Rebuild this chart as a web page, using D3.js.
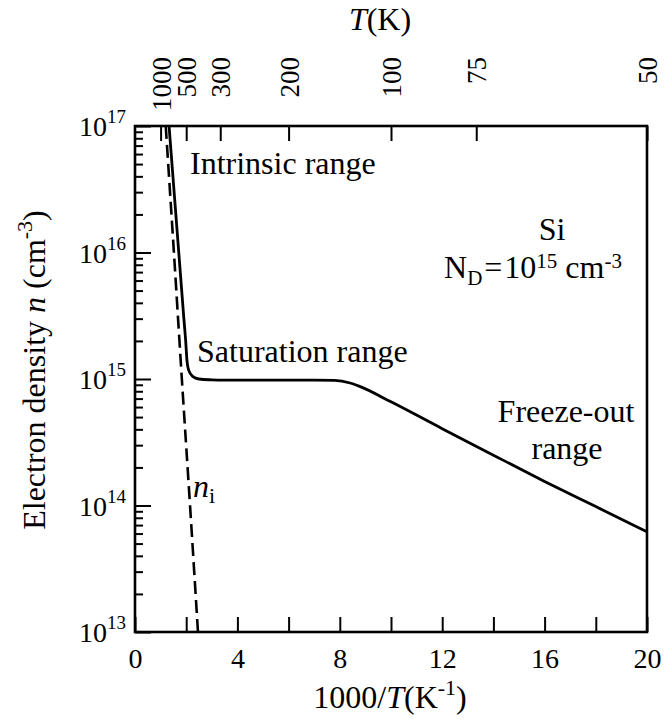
<!DOCTYPE html>
<html>
<head>
<meta charset="utf-8">
<script src="https://cdn.jsdelivr.net/npm/d3@7"></script>
<style>
body { margin: 0; background: #fff; }
text { font-family: "Liberation Serif", "DejaVu Serif", serif; fill: #000; }
</style>
</head>
<body>
<div id="chart"></div>
<script>
// electron density n vs 1000/T, Si with N_D = 1e15 cm^-3
const invT = [1.33, 1.71, 1.9, 1.98, 2.03, 2.1, 2.25, 2.5, 3, 3.5, 5, 7, 7.8, 8.4, 8.8, 10, 12, 14, 16, 18, 20];
const nTotal = [1e17, 1e16, 3.16e15, 2.0e15, 1.4e15, 1.17e15, 1.05e15, 1.0e15, 0.985e15, 0.98e15, 0.98e15, 0.98e15, 0.975e15, 0.93e15, 0.87e15, 6.6e14, 4.05e14, 2.5e14, 1.55e14, 9.8e13, 6.2e13];

// intrinsic density n_i (dashed)
const niInvT = [1.2, 1.52, 1.83, 2.15, 2.46];
const niN = [1e17, 1e16, 1e15, 1e14, 1e13];

const xTickVals = [0, 2, 4, 6, 8, 10, 12, 14, 16, 18, 20];
const xLabelled = [0, 4, 8, 12, 16, 20];
const yExponents = [13, 14, 15, 16, 17];

// top temperature axis
const topTickPos = [1, 2, 3.33, 6, 10, 13.33, 20];
const topTickLabels = ["1000", "500", "300", "200", "100", "75", "50"];

const W = 664, H = 719;
const margin = {top: 126, right: 17, bottom: 87, left: 135};
const x0 = margin.left, x1 = W - margin.right, y0 = H - margin.bottom, y1 = margin.top;

const svg = d3.select("#chart").append("svg")
  .attr("width", W).attr("height", H);

const x = d3.scaleLinear().domain([0, 20]).range([x0, x1]);
const y = d3.scaleLog().domain([1e13, 1e17]).range([y0, y1]);

// minor log ticks
let minor = [];
for (let e = 13; e < 17; e++) for (let m = 2; m < 10; m++) minor.push(m * Math.pow(10, e));

svg.append("g")
  .attr("transform", "translate(" + x0 + ",0)")
  .call(d3.axisLeft(y).tickValues(minor).tickSizeInner(-8).tickSizeOuter(0).tickFormat(""))
  .call(g => g.select(".domain").remove())
  .selectAll("line").attr("stroke-width", 2);

const yAx = svg.append("g")
  .attr("transform", "translate(" + x0 + ",0)")
  .call(d3.axisLeft(y).tickValues(yExponents.map(e => Math.pow(10, e))).tickSizeInner(-16).tickSizeOuter(0).tickFormat(""))
  .call(g => g.select(".domain").remove());
yAx.selectAll("line").attr("stroke-width", 2);

yExponents.forEach(e => {
  const t = svg.append("text")
    .attr("x", x0 - 9)
    .attr("y", y(Math.pow(10, e)) + 10)
    .attr("text-anchor", "end")
    .style("font-size", "28px");
  t.append("tspan").text("10");
  t.append("tspan").attr("dy", -13).style("font-size", "19px").text(e);
});

// bottom axis
const xAx = svg.append("g")
  .attr("transform", "translate(0," + y0 + ")")
  .call(d3.axisBottom(x).tickValues(xTickVals).tickSizeInner(-15).tickSizeOuter(0).tickPadding(16)
    .tickFormat(d => xLabelled.includes(d) ? d : ""))
  .call(g => g.select(".domain").remove());
xAx.selectAll("line").attr("stroke-width", 2);
xAx.selectAll("text").style("font-size", "28px").style("font-family", "Liberation Serif").attr("fill", "#000");

// top axis (temperature)
const tAx = svg.append("g")
  .attr("transform", "translate(0," + y1 + ")")
  .call(d3.axisTop(x).tickValues(topTickPos).tickSizeInner(-15).tickSizeOuter(0)
    .tickFormat((d, i) => topTickLabels[i]))
  .call(g => g.select(".domain").remove());
tAx.selectAll("line").attr("stroke-width", 2);
tAx.selectAll("text")
  .attr("transform", "rotate(-90)")
  .attr("x", 69).attr("y", 0).attr("dy", "0.35em")
  .attr("text-anchor", "end")
  .style("font-size", "27px").style("font-family", "Liberation Serif").attr("fill", "#000");

// curves
svg.append("clipPath").attr("id", "clip")
  .append("rect").attr("x", x0).attr("y", y1).attr("width", x1 - x0).attr("height", y0 - y1);

const line = d3.line().x(d => x(d[0])).y(d => y(d[1])).curve(d3.curveMonotoneX);

svg.append("path")
  .attr("clip-path", "url(#clip)")
  .attr("d", line(niInvT.map((v, i) => [v, niN[i]])))
  .attr("fill", "none").attr("stroke", "#000").attr("stroke-width", 2.6)
  .attr("stroke-dasharray", "13,6");

svg.append("path")
  .attr("clip-path", "url(#clip)")
  .attr("d", line(invT.map((v, i) => [v, nTotal[i]])))
  .attr("fill", "none").attr("stroke", "#000").attr("stroke-width", 2.8);

// frame
svg.append("rect")
  .attr("x", x0).attr("y", y1).attr("width", x1 - x0).attr("height", y0 - y1)
  .attr("fill", "none").attr("stroke", "#000").attr("stroke-width", 2.6);

// annotations
const fs = "32px";
svg.append("text").attr("x", 190).attr("y", 174).style("font-size", fs).text("Intrinsic range");
svg.append("text").attr("x", 197).attr("y", 362).style("font-size", fs).text("Saturation range");
svg.append("text").attr("x", 566).attr("y", 422).attr("text-anchor", "middle").style("font-size", fs).text("Freeze-out");
svg.append("text").attr("x", 567).attr("y", 459).attr("text-anchor", "middle").style("font-size", fs).text("range");
svg.append("text").attr("x", 552).attr("y", 240).attr("text-anchor", "middle").style("font-size", fs).text("Si");

const nd = svg.append("text").attr("x", 533).attr("y", 278).attr("text-anchor", "middle").style("font-size", fs);
nd.append("tspan").text("N");
nd.append("tspan").attr("dy", 7).style("font-size", "21px").text("D");
nd.append("tspan").attr("dy", -7).attr("dx", 2).text("=");
nd.append("tspan").attr("dx", 2).text("10");
nd.append("tspan").attr("dy", -10).style("font-size", "21px").text("15");
nd.append("tspan").attr("dy", 10).text(" cm");
nd.append("tspan").attr("dy", -10).style("font-size", "21px").text("-3");

const ni = svg.append("text").attr("x", 193).attr("y", 497).style("font-size", fs);
ni.append("tspan").style("font-style", "italic").text("n");
ni.append("tspan").attr("dy", 6).style("font-size", "22px").text("i");

// axis titles
const xt = svg.append("text").attr("x", 390).attr("y", 708).attr("text-anchor", "middle").style("font-size", fs);
xt.append("tspan").text("1000/");
xt.append("tspan").style("font-style", "italic").text("T");
xt.append("tspan").text("(K");
xt.append("tspan").attr("dy", -13).style("font-size", "22px").text("-1");
xt.append("tspan").attr("dy", 13).text(")");

const tt = svg.append("text").attr("x", 380).attr("y", 30).attr("text-anchor", "middle").style("font-size", fs);
tt.append("tspan").style("font-style", "italic").text("T");
tt.append("tspan").text("(K)");

const yt = svg.append("text")
  .attr("transform", "translate(45,370) rotate(-90)")
  .attr("text-anchor", "middle").style("font-size", fs);
yt.append("tspan").text("Electron density ");
yt.append("tspan").style("font-style", "italic").text("n");
yt.append("tspan").text(" (cm");
yt.append("tspan").attr("dy", -13).style("font-size", "22px").text("-3");
yt.append("tspan").attr("dy", 13).text(")");
</script>
</body>
</html>
